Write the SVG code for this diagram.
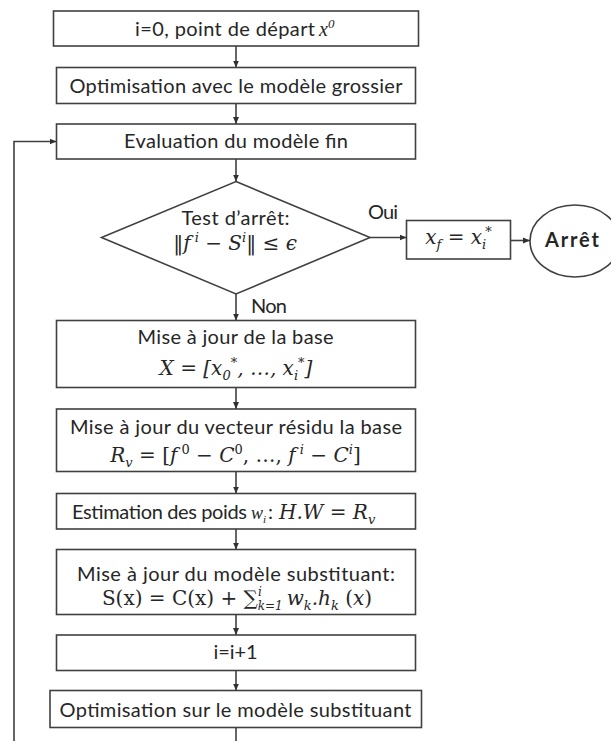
<svg xmlns="http://www.w3.org/2000/svg" width="611" height="741" viewBox="0 0 611 741">
<defs>
<style>
.box{fill:#fff;stroke:#404040;stroke-width:1.6}
.ln{fill:none;stroke:#404040;stroke-width:1.6}
.t{font-family:Lato,"Open Sans",sans-serif;font-size:20px;fill:#262626}
.b{font-weight:bold}
.r{font-family:"DejaVu Serif","Liberation Serif",serif;font-size:20px;fill:#262626}
.i{font-style:italic}
.tm{font-family:"Liberation Serif",serif;font-style:italic;fill:#262626}
.sup{font-size:13px;baseline-shift:8px}
.sub{font-size:13px;baseline-shift:-5px}
</style>
<marker id="ah" markerUnits="userSpaceOnUse" markerWidth="8" markerHeight="8" refX="7" refY="3.5" orient="auto">
<path d="M0,0.5 L7,3.5 L0,6.5 z" fill="#303030"/>
</marker>
</defs>
<rect width="611" height="741" fill="#fff"/>

<g id="connectors">
<line class="ln" x1="236" y1="46" x2="236" y2="67.5" marker-end="url(#ah)"/>
<line class="ln" x1="236" y1="103.5" x2="236" y2="124" marker-end="url(#ah)"/>
<line class="ln" x1="236" y1="159" x2="236" y2="181.5" marker-end="url(#ah)"/>
<line class="ln" x1="236" y1="294" x2="236" y2="320.5" marker-end="url(#ah)"/>
<line class="ln" x1="236" y1="387.5" x2="236" y2="409" marker-end="url(#ah)"/>
<line class="ln" x1="236" y1="471.5" x2="236" y2="493.5" marker-end="url(#ah)"/>
<line class="ln" x1="236" y1="529" x2="236" y2="549.5" marker-end="url(#ah)"/>
<line class="ln" x1="236" y1="614.5" x2="236" y2="635" marker-end="url(#ah)"/>
<line class="ln" x1="236" y1="670.5" x2="236" y2="690.5" marker-end="url(#ah)"/>
<line class="ln" x1="236" y1="727.5" x2="236" y2="741"/>
<polyline class="ln" points="14,741 14,141.5 56.5,141.5" marker-end="url(#ah)"/>
<line class="ln" x1="370" y1="237.5" x2="406.5" y2="237.5" marker-end="url(#ah)"/>
<line class="ln" x1="510.5" y1="240.5" x2="530" y2="240.5" marker-end="url(#ah)"/>
<text class="t" x="368" y="219" textLength="30">Oui</text>
<text class="t" x="251" y="313" textLength="36">Non</text>
</g>

<g id="start">
<rect class="box" x="53.5" y="11" width="365" height="35"/>
<text class="t" x="135" y="36" textLength="180">i=0, point de départ</text>
<text class="tm" x="319" y="36" font-size="20">x<tspan font-size="13" baseline-shift="8px">0</tspan></text>
</g>

<g id="coarse">
<rect class="box" x="56.5" y="67.5" width="359" height="36"/>
<text class="t" x="236" y="92.5" text-anchor="middle" textLength="333">Optimisation avec le modèle grossier</text>
</g>

<g id="fine">
<rect class="box" x="56.5" y="124" width="359" height="35"/>
<text class="t" x="236" y="148" text-anchor="middle" textLength="224">Evaluation du modèle fin</text>
</g>

<g id="test">
<polygon class="box" points="236,181.5 370,237.5 236,294 101.5,237.5"/>
<text class="t" x="235.5" y="225" text-anchor="middle" textLength="108">Test d’arrêt:</text>
<text class="r" x="235" y="250" text-anchor="middle" font-size="22">‖<tspan class="i">f</tspan><tspan class="sup i"> i</tspan> − <tspan class="i">S</tspan><tspan class="sup i">i</tspan>‖ ≤ <tspan class="i">ϵ</tspan></text>
</g>

<g id="result">
<rect class="box" x="406.5" y="220.5" width="104" height="38.5"/>
<text class="r i" x="458.5" y="244" text-anchor="middle" font-size="21">x<tspan class="sub">f</tspan> = x<tspan class="sub">i</tspan><tspan class="sup" dx="-1">*</tspan></text>
</g>

<g id="stop">
<ellipse class="box" cx="575" cy="241" rx="45" ry="36"/>
<text class="t b" x="572" y="246.5" text-anchor="middle" textLength="54">Arrêt</text>
</g>

<g id="base">
<rect class="box" x="56.5" y="320.5" width="359" height="67"/>
<text class="t" x="235.5" y="344" text-anchor="middle" textLength="196">Mise à jour de la base</text>
<text class="r i" x="236" y="375" text-anchor="middle" font-size="21">X = [x<tspan class="sub">0</tspan><tspan class="sup">*</tspan>, …, x<tspan class="sub">i</tspan><tspan class="sup">*</tspan>]</text>
</g>

<g id="residual">
<rect class="box" x="56.5" y="409" width="359" height="62.5"/>
<text class="t" x="236" y="433.5" text-anchor="middle" textLength="332">Mise à jour du vecteur résidu la base</text>
<text class="r" x="235.5" y="462" text-anchor="middle" font-size="21"><tspan class="i">R</tspan><tspan class="sub i">v</tspan> = [<tspan class="i">f</tspan><tspan class="sup"> 0</tspan> − <tspan class="i">C</tspan><tspan class="sup">0</tspan>, …, <tspan class="i">f</tspan><tspan class="sup i"> i</tspan> − <tspan class="i">C</tspan><tspan class="sup i">i</tspan>]</text>
</g>

<g id="weights">
<rect class="box" x="56.5" y="493.5" width="359" height="35.5"/>
<text class="t" x="72" y="519" textLength="175">Estimation des poids</text>
<text class="tm" x="251" y="519" font-size="18">w<tspan font-size="11" baseline-shift="-4px">i</tspan></text>
<text class="t" x="268" y="519">:</text>
<text class="r i" x="279" y="519" font-size="21">H.W <tspan font-style="normal">=</tspan> R<tspan class="sub">v</tspan></text>
</g>

<g id="surrogate">
<rect class="box" x="56.5" y="549.5" width="359" height="65"/>
<text class="t" x="236" y="581" text-anchor="middle" textLength="318">Mise à jour du modèle substituant:</text>
<text class="r" x="237" y="605" text-anchor="middle" font-size="21">S(x) = C(x) + ∑<tspan class="i" font-size="12" baseline-shift="9px">i</tspan><tspan class="i" font-size="12" baseline-shift="-5px" dx="-4">k=1</tspan><tspan class="i" dx="4">w</tspan><tspan class="sub i">k</tspan><tspan class="i">.h</tspan><tspan class="sub i">k</tspan> (<tspan class="i">x</tspan>)</text>
</g>

<g id="increment">
<rect class="box" x="56.5" y="635" width="359" height="35.5"/>
<text class="t" x="235.5" y="658.5" text-anchor="middle" textLength="44">i=i+1</text>
</g>

<g id="optim">
<rect class="box" x="50" y="690.5" width="371.5" height="37"/>
<text class="t" x="235.5" y="716.5" text-anchor="middle" textLength="352">Optimisation sur le modèle substituant</text>
</g>
</svg>
